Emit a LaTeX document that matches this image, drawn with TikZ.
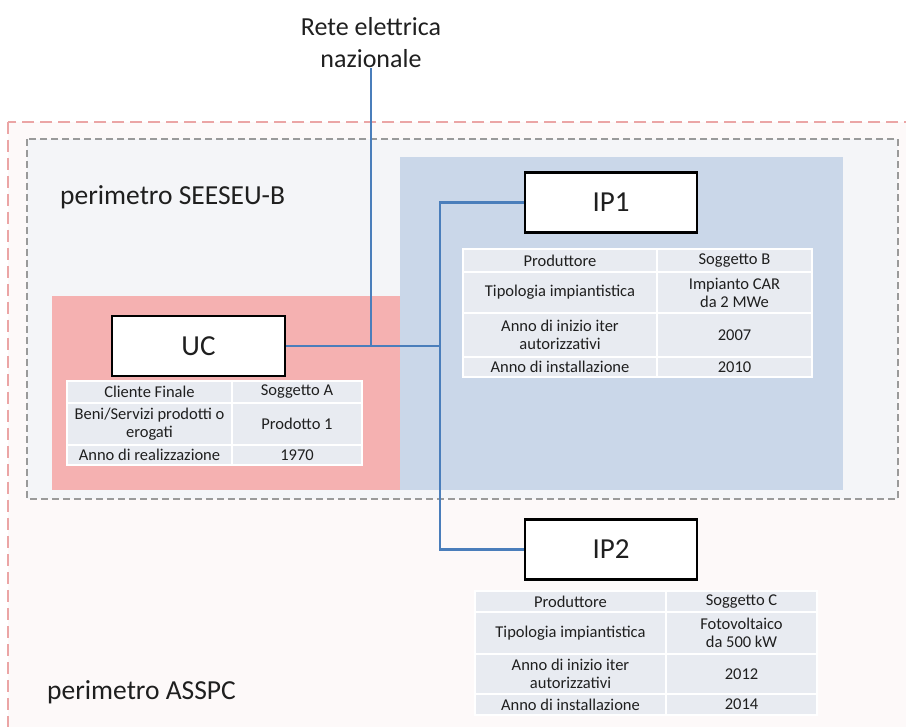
\documentclass[tikz,border=0pt]{standalone}
\usepackage{fontspec}
\setmainfont{Carlito}
\usepackage{tikz}
\usetikzlibrary{positioning}

\definecolor{asspcfill}{HTML}{FDF9F9}
\definecolor{asspcline}{HTML}{EBA5A5}
\definecolor{seeseufill}{HTML}{F4F5F8}
\definecolor{seeseuline}{HTML}{9A9A9A}
\definecolor{ucfill}{HTML}{F5B1B1}
\definecolor{ipfill}{HTML}{CAD7E9}
\definecolor{cellfill}{HTML}{E8EBF1}
\definecolor{gridline}{HTML}{4A7EBB}

\begin{document}
\begin{tikzpicture}[
    x=1pt, y=-1pt,
    text=black!88,
    box/.style={draw=black, fill=white, line width=2.4pt, font=\fontsize{29}{33}\selectfont,
                minimum width=172, minimum height=60, inner sep=0pt},
    cell/.style={draw=white, fill=cellfill, line width=1.2pt, align=center,
                 font=\fontsize{16.5}{18}\selectfont, inner sep=0pt, outer sep=0pt},
    link/.style={gridline, line width=2.2pt},
    perim/.style={font=\fontsize{27.5}{32}\selectfont, anchor=west, inner sep=0pt},
  ]

  \useasboundingbox (0,0) rectangle (906,727);
  \clip (0,0) rectangle (906,727);

  % ---------- perimeters ----------
  \draw[asspcline, fill=asspcfill, line width=1.3pt, dash pattern=on 12pt off 6pt]
    (8,122) rectangle (940,760);
  \draw[seeseuline, fill=seeseufill, line width=1.3pt, dash pattern=on 7pt off 4pt]
    (27,139) rectangle (898,499);
  \fill[ucfill] (52,296) rectangle (400,490);
  \fill[ipfill] (400,157) rectangle (843,490);

  \node[perim] (seeseu) at (60,197) {perimetro SEESEU-B};
  \node[perim] (asspc) at (47,692) {perimetro ASSPC};

  % ---------- grid and users ----------
  \node[align=center, font=\fontsize{26}{32}\selectfont, inner sep=0pt, anchor=south]
    (rete) at (371,68) {Rete elettrica\\nazionale};

  \node[box, minimum width=173] (UC) at (198.5,346) {UC};
  \node[box] (IP1) at (611,202.5) {IP1};
  \node[box] (IP2) at (611,549.5) {IP2};

  \coordinate (j1) at (371,346);
  \coordinate (j2) at (440,346);

  \draw[link] (rete.south) -- (j1);
  \draw[link] (UC.east) -- (j2);
  \draw[link] (j2) |- (IP1.west);
  \draw[link] (j2) |- (IP2.west);

  % ---------- UC table ----------
  \node[cell, minimum width=165, minimum height=22] (uca1) at (149.5,392) {Cliente Finale};
  \node[cell, minimum width=130, minimum height=22] (ucb1) at (297,392) {Soggetto A};
  \node[cell, minimum width=165, minimum height=42] (uca2) at (149.5,424) {Beni/Servizi prodotti o\\erogati};
  \node[cell, minimum width=130, minimum height=42] (ucb2) at (297,424) {Prodotto 1};
  \node[cell, minimum width=165, minimum height=20] (uca3) at (149.5,455) {Anno di realizzazione};
  \node[cell, minimum width=130, minimum height=20] (ucb3) at (297,455) {1970};

  % ---------- IP1 table ----------
  \node[cell, minimum width=194, minimum height=23] (ipa1) at (560,260.5) {Produttore};
  \node[cell, minimum width=155, minimum height=23] (ipb1) at (734.5,260.5) {Soggetto B};
  \node[cell, minimum width=194, minimum height=41] (ipa2) at (560,292.5) {Tipologia impiantistica};
  \node[cell, minimum width=155, minimum height=41] (ipb2) at (734.5,292.5) {Impianto CAR\\da 2 MWe};
  \node[cell, minimum width=194, minimum height=44] (ipa3) at (560,335) {Anno di inizio iter\\autorizzativi};
  \node[cell, minimum width=155, minimum height=44] (ipb3) at (734.5,335) {2007};
  \node[cell, minimum width=194, minimum height=20] (ipa4) at (560,367) {Anno di installazione};
  \node[cell, minimum width=155, minimum height=20] (ipb4) at (734.5,367) {2010};

  % ---------- IP2 table ----------
  \node[cell, minimum width=191, minimum height=21] (iqa1) at (570.5,601.5) {Produttore};
  \node[cell, minimum width=151, minimum height=21] (iqb1) at (741.5,601.5) {Soggetto C};
  \node[cell, minimum width=191, minimum height=42] (iqa2) at (570.5,633) {Tipologia impiantistica};
  \node[cell, minimum width=151, minimum height=42] (iqb2) at (741.5,633) {Fotovoltaico\\da 500 kW};
  \node[cell, minimum width=191, minimum height=40] (iqa3) at (570.5,674) {Anno di inizio iter\\autorizzativi};
  \node[cell, minimum width=151, minimum height=40] (iqb3) at (741.5,674) {2012};
  \node[cell, minimum width=191, minimum height=21] (iqa4) at (570.5,704.5) {Anno di installazione};
  \node[cell, minimum width=151, minimum height=21] (iqb4) at (741.5,704.5) {2014};

\end{tikzpicture}
\end{document}
